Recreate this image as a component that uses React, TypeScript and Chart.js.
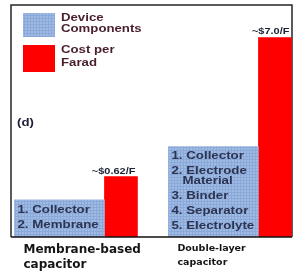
import React, { useEffect, useRef } from "react";
import { Chart, registerables } from "chart.js";

Chart.register(...registerables);

// ---- data ----
const categories: string[][] = [
  ["Membrane-based", "capacitor"],
  ["Double-layer", "capacitor"],
];
const seriesLabels = ["Device Components", "Cost per Farad"];
const legendLines: string[][] = [
  ["Device", "Components"],
  ["Cost per", "Farad"],
];
// relative bar heights (% of panel height), schematic
const deviceComponentsHeight = [16, 39];
const costPerFaradHeight = [26, 86];
const costLabels = ["~$0.62/F", "~$7.0/F"];
const componentLists: string[][][] = [
  [["1. Collector"], ["2. Membrane"]],
  [["1. Collector"], ["2. Electrode", "Material"], ["3. Binder"], ["4. Separator"], ["5. Electrolyte"]],
];
const panelLabel = "(d)";

// ---- styles ----
const BLUE_BASE = "#9fbae3";
const BLUE_LINE = "#8aa8d8";
const RED = "#ff0000";
const FRAME = "#262626";
const PLUGIN_FONT = '"Liberation Sans", Arial, sans-serif';

function makeGridPattern(base: string, line: string): CanvasPattern | string {
  const c = document.createElement("canvas");
  c.width = 3;
  c.height = 3;
  const g = c.getContext("2d");
  if (!g) return base;
  g.fillStyle = base;
  g.fillRect(0, 0, 3, 3);
  g.fillStyle = line;
  g.fillRect(0, 0, 3, 1);
  g.fillRect(0, 0, 1, 3);
  return g.createPattern(c, "repeat") || base;
}

function stretchText(
  ctx: CanvasRenderingContext2D,
  text: string,
  x: number,
  y: number,
  size: number,
  sx: number,
  color: string,
  align: CanvasTextAlign = "left"
) {
  ctx.save();
  ctx.font = `bold ${size}px ${PLUGIN_FONT}`;
  ctx.fillStyle = color;
  ctx.textBaseline = "middle";
  ctx.textAlign = align;
  ctx.translate(x, y);
  ctx.scale(sx, 1);
  ctx.fillText(text, 0, 0);
  ctx.restore();
}

const framePlugin = {
  id: "frame",
  beforeDatasetsDraw(chart: any) {
    const { ctx, chartArea: a } = chart;
    ctx.save();
    ctx.strokeStyle = FRAME;
    ctx.lineWidth = 1.5;
    ctx.beginPath();
    ctx.moveTo(a.left, a.bottom);
    ctx.lineTo(a.left, a.top);
    ctx.lineTo(a.right, a.top);
    ctx.lineTo(a.right, a.bottom);
    ctx.stroke();
    ctx.restore();
  },
  afterDatasetsDraw(chart: any) {
    const { ctx, chartArea: a } = chart;
    ctx.save();
    ctx.strokeStyle = "#111111";
    ctx.lineWidth = 1.6;
    ctx.beginPath();
    ctx.moveTo(a.left, a.bottom);
    ctx.lineTo(a.right, a.bottom);
    ctx.stroke();
    ctx.restore();
  },
};

const annotationPlugin = {
  id: "annotations",
  afterDatasetsDraw(chart: any) {
    const { ctx, chartArea: a } = chart;
    // component lists inside the blue bars
    const blueMeta = chart.getDatasetMeta(0);
    blueMeta.data.forEach((el: any, i: number) => {
      const p = el.getProps(["x", "y", "width"], true);
      const left = p.x - p.width / 2;
      let y = p.y + 10;
      (componentLists[i] || []).forEach((item, k) => {
        if (k > 0) y += 15;
        item.forEach((line, j) => {
          if (j > 0) y += 10;
          stretchText(ctx, line, left + (j > 0 ? 14 : 3), y, 10, 1.33, "#2c3452");
        });
      });
    });
    // cost labels above red bars
    const redMeta = chart.getDatasetMeta(1);
    redMeta.data.forEach((el: any, i: number) => {
      const p = el.getProps(["x", "y", "width"], true);
      stretchText(ctx, costLabels[i], p.x + p.width / 2 - 2, p.y - 5.5, 9, 1.22, "#1c2336", "right");
    });
    // legend (drawn from dataset styles)
    const lx = a.left + 12;
    let ly = a.top + 8;
    chart.data.datasets.forEach((ds: any, i: number) => {
      const h = i === 0 ? 24 : 27;
      ctx.save();
      ctx.fillStyle = ds.backgroundColor;
      ctx.fillRect(lx, ly, 32, h);
      ctx.restore();
      const lines = legendLines[i] || [ds.label];
      lines.forEach((t, j) => {
        stretchText(ctx, t, lx + 38, ly + 5.5 + j * (i === 0 ? 11 : 13), 10, 1.32, "#4a1e2c");
      });
      ly += 32;
    });
    // panel label
    stretchText(ctx, panelLabel, a.left + 6, a.top + 118, 11, 1.2, "#1b2038");
  },
};

export default function App() {
  const ref = useRef<HTMLCanvasElement>(null);

  useEffect(() => {
    document.body.style.margin = "0";
    const canvas = ref.current;
    if (!canvas) return;
    const pattern = makeGridPattern(BLUE_BASE, BLUE_LINE);
    const chart = new Chart(canvas, {
      type: "bar",
      data: {
        datasets: [
          {
            label: seriesLabels[0],
            data: deviceComponentsHeight.map((v, i) => ({ x: i, y: v })),
            backgroundColor: pattern as any,
            borderWidth: 0,
            barThickness: 90,
          },
          {
            label: seriesLabels[1],
            data: costPerFaradHeight.map((v, i) => ({ x: i, y: v })),
            backgroundColor: RED,
            borderWidth: 0,
            barThickness: 33,
          },
        ],
      },
      options: {
        responsive: false,
        animation: false,
        events: [],
        layout: { padding: { left: 11, right: 8, top: 5, bottom: -5 } },
        plugins: {
          legend: { display: false },
          tooltip: { enabled: false },
          title: { display: false },
        },
        scales: {
          x: {
            type: "linear",
            min: -0.607,
            max: 1.218,
            offset: false,
            grid: { display: false, drawTicks: false },
            border: { display: false },
            afterBuildTicks: (scale: any) => {
              scale.ticks = categories.map((_, i) => ({ value: i }));
            },
            afterFit: (scale: any) => {
              scale.paddingLeft = 0;
              scale.paddingRight = 0;
            },
            ticks: {
              autoSkip: false,
              maxRotation: 0,
              minRotation: 0,
              padding: 5,
              align: "start",
              labelOffset: -81,
              color: "#161616",
              callback: (v: any) => categories[Math.round(Number(v))] as any,
              font: (c: any) =>
                c.index === 0
                  ? { family: '"DejaVu Sans", sans-serif', size: 12, weight: "bold", lineHeight: "15px" }
                  : { family: '"DejaVu Sans", sans-serif', size: 9.5, weight: "bold", lineHeight: "14px" },
            },
          } as any,
          y: { display: false, min: 0, max: 100 },
        },
      },
      plugins: [framePlugin, annotationPlugin],
    });
    return () => chart.destroy();
  }, []);

  return (
    <div style={{ width: 300, height: 272 }}>
      <canvas ref={ref} width={300} height={272} style={{ display: "block" }} />
    </div>
  );
}
